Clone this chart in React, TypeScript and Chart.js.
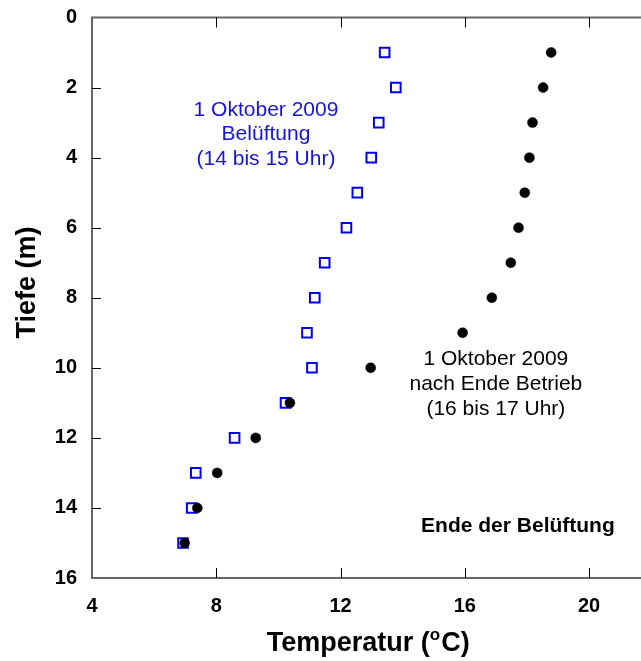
import React, { useEffect, useRef } from "react";
import { Chart, registerables } from "chart.js";

Chart.register(...registerables);

const depths = [1, 2, 3, 4, 5, 6, 7, 8, 9, 10, 11, 12, 13, 14, 15];
const tempBelueftung = [13.42, 13.78, 13.23, 12.99, 12.54, 12.19, 11.49, 11.17, 10.92, 11.08, 10.23, 8.59, 7.34, 7.21, 6.93];
const tempNachEnde = [18.78, 18.52, 18.18, 18.08, 17.93, 17.73, 17.48, 16.87, 15.93, 12.97, 10.37, 9.27, 8.03, 7.39, 6.98];
const xTicks = [4, 8, 12, 16, 20];
const yTicks = [0, 2, 4, 6, 8, 10, 12, 14, 16];
const blueLabel = ["1 Oktober 2009", "Belüftung", "(14 bis 15 Uhr)"];
const blackLabel = ["1 Oktober 2009", "nach Ende Betrieb", "(16 bis 17 Uhr)"];
const endLabel = "Ende der Belüftung";
const xTitle = ["Temperatur (", "o", "C)"];
const yTitle = "Tiefe (m)";

const FONT = "'Liberation Sans', Arial, Helvetica, sans-serif";
const BLUE = "#0000ee";
const BLUE_TEXT = "#1414dc";

const framePlugin = {
  id: "frame",
  beforeDatasetsDraw(chart: any) {
    const { ctx, chartArea } = chart;
    const xs = chart.scales.x;
    const ys = chart.scales.y;
    const { left, top, right, bottom } = chartArea;
    ctx.save();
    ctx.strokeStyle = "#666666";
    ctx.lineWidth = 2;
    ctx.beginPath();
    ctx.moveTo(right + 20, top);
    ctx.lineTo(left, top);
    ctx.lineTo(left, bottom);
    ctx.lineTo(right + 20, bottom);
    ctx.stroke();
    ctx.strokeStyle = "#000000";
    ctx.lineWidth = 1;
    ctx.beginPath();
    for (const v of xTicks) {
      if (v === xs.min) continue;
      const px = Math.round(xs.getPixelForValue(v)) + 0.5;
      ctx.moveTo(px, bottom);
      ctx.lineTo(px, bottom - 10);
      ctx.moveTo(px, top);
      ctx.lineTo(px, top + 10);
    }
    for (const v of yTicks) {
      if (v === ys.min || v === ys.max) continue;
      const py = Math.round(ys.getPixelForValue(v)) + 0.5;
      ctx.moveTo(left, py);
      ctx.lineTo(left + 9, py);
    }
    ctx.stroke();
    ctx.restore();
  },
  afterDraw(chart: any) {
    const { ctx } = chart;
    const xs = chart.scales.x;
    const ys = chart.scales.y;
    ctx.save();
    ctx.textAlign = "center";
    ctx.textBaseline = "middle";
    // blue annotation
    ctx.fillStyle = BLUE_TEXT;
    ctx.font = `21px ${FONT}`;
    const bx = xs.getPixelForValue(9.6);
    const by = ys.getPixelForValue(2.64);
    blueLabel.forEach((t, i) => ctx.fillText(t, bx, by + i * 24.5));
    // black annotation
    ctx.fillStyle = "#000000";
    const kx = xs.getPixelForValue(17.0);
    const ky = ys.getPixelForValue(9.75);
    blackLabel.forEach((t, i) => ctx.fillText(t, kx, ky + i * 25));
    // end label
    ctx.font = `bold 21px ${FONT}`;
    ctx.fillText(endLabel, xs.getPixelForValue(17.71), ys.getPixelForValue(14.51));
    // x title
    ctx.textAlign = "left";
    ctx.textBaseline = "alphabetic";
    const big = `bold 27px ${FONT}`;
    const small = `bold 17px ${FONT}`;
    ctx.font = big;
    const w1 = ctx.measureText(xTitle[0]).width;
    const w3 = ctx.measureText(xTitle[2]).width;
    ctx.font = small;
    const w2 = ctx.measureText(xTitle[1]).width;
    const total = w1 + w2 + w3 + 1;
    const cx = xs.getPixelForValue(12.89);
    const baseY = 651;
    let x0 = cx - total / 2;
    ctx.font = big;
    ctx.fillText(xTitle[0], x0, baseY);
    x0 += w1;
    ctx.font = small;
    ctx.fillText(xTitle[1], x0, baseY - 11);
    x0 += w2 + 1;
    ctx.font = big;
    ctx.fillText(xTitle[2], x0, baseY);
    // y title
    ctx.translate(34.5, 282.5);
    ctx.rotate(-Math.PI / 2);
    ctx.textAlign = "center";
    ctx.font = big;
    ctx.fillText(yTitle, 0, 0);
    ctx.restore();
  },
};

export default function App() {
  const ref = useRef<HTMLCanvasElement>(null);
  useEffect(() => {
    if (!ref.current) return;
    const chart = new Chart(ref.current, {
      type: "scatter",
      data: {
        datasets: [
          {
            label: "nach Ende Betrieb",
            data: depths.map((d, i) => ({ x: tempNachEnde[i], y: d })),
            pointStyle: "circle",
            pointRadius: 5,
            pointBackgroundColor: "#000000",
            pointBorderColor: "#000000",
            pointBorderWidth: 0.5,
          },
          {
            label: "Belüftung",
            data: depths.map((d, i) => ({ x: tempBelueftung[i], y: d })),
            pointStyle: "rect",
            pointRadius: 6.8,
            pointBackgroundColor: "rgba(255,255,255,0)",
            pointBorderColor: BLUE,
            pointBorderWidth: 2,
          },
        ],
      },
      options: {
        animation: false,
        responsive: false,
        devicePixelRatio: 1,
        layout: { padding: { left: 0, top: 17.5, right: 8.2, bottom: 0 } },
        plugins: { legend: { display: false }, tooltip: { enabled: false } },
        scales: {
          x: {
            type: "linear",
            position: "bottom",
            min: 4,
            max: 22,
            afterBuildTicks: (s: any) => {
              s.ticks = xTicks.map((v) => ({ value: v }));
            },
            afterFit: (s: any) => {
              s.height = 83;
              s.paddingLeft = 0;
              s.paddingRight = 0;
            },
            grid: { display: false },
            border: { display: false },
            ticks: {
              color: "#000000",
              font: { family: FONT, size: 20, weight: "bold" },
              padding: 8,
              maxRotation: 0,
            },
          },
          y: {
            type: "linear",
            reverse: true,
            min: 0,
            max: 16,
            afterBuildTicks: (s: any) => {
              s.ticks = yTicks.map((v) => ({ value: v }));
            },
            afterFit: (s: any) => {
              s.width = 92;
              s.paddingTop = 0;
              s.paddingBottom = 0;
            },
            grid: { display: false },
            border: { display: false },
            ticks: {
              color: "#000000",
              font: { family: FONT, size: 20, weight: "bold" },
              padding: 7,
            },
          },
        },
      },
      plugins: [framePlugin],
    });
    return () => chart.destroy();
  }, []);
  return (
    <div style={{ position: "fixed", left: 0, top: 0, width: 660, height: 661, background: "#ffffff" }}>
      <canvas ref={ref} width={660} height={661} style={{ display: "block" }} />
    </div>
  );
}
